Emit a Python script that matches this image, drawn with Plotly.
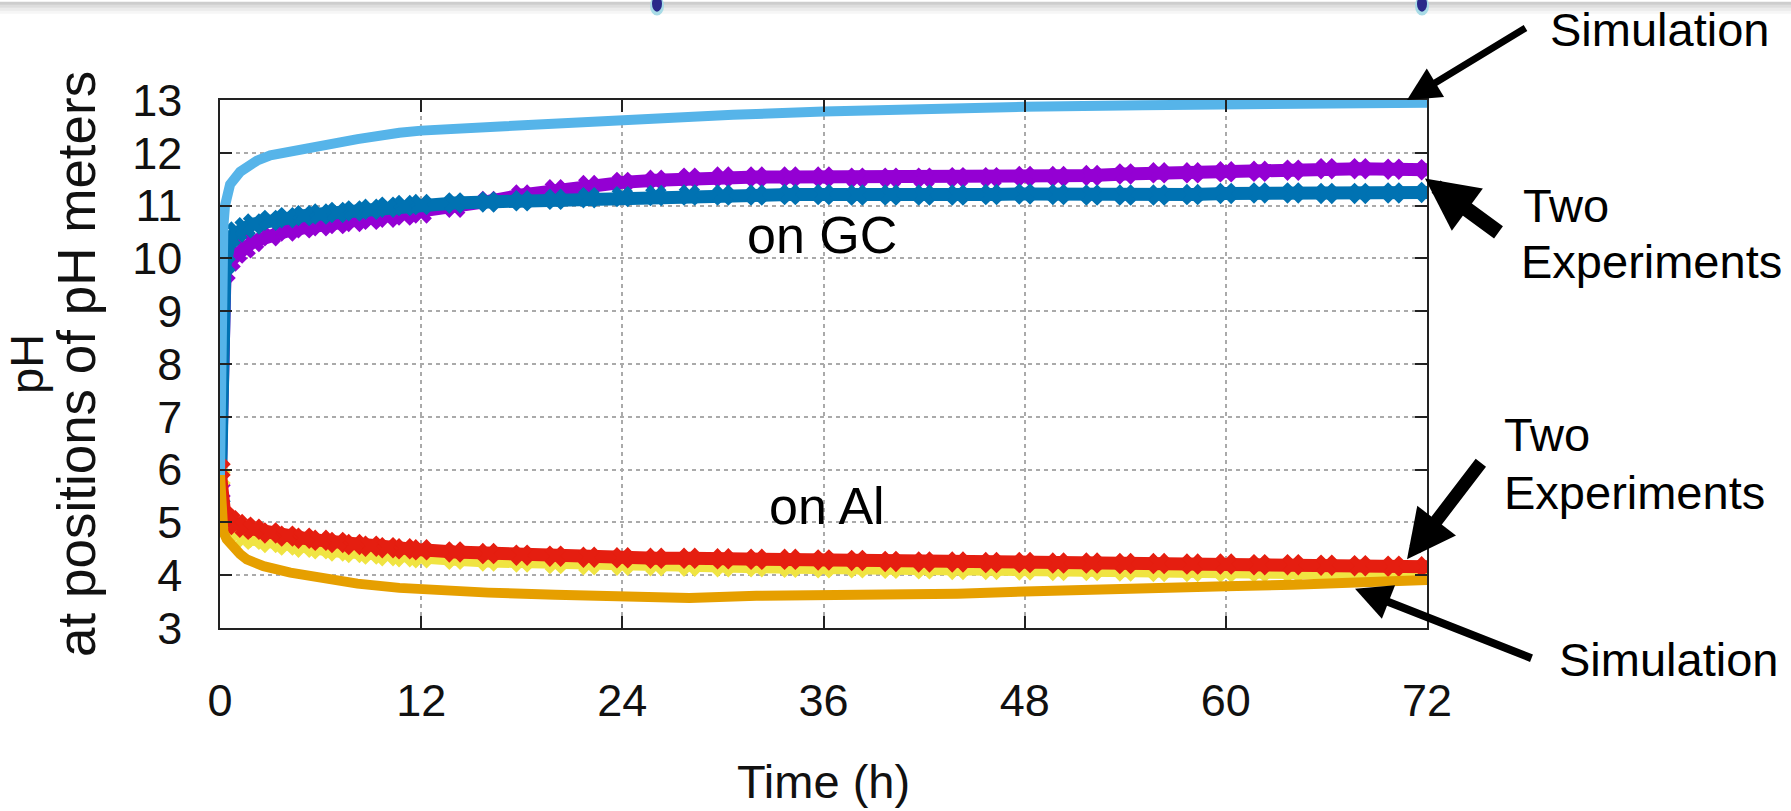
import plotly.graph_objects as go

# ---------------- data ----------------
# Simulation on GC (light blue)
t_sim_gc = [0, 0.05, 0.1, 0.2, 0.3, 0.6, 1.2, 2.2, 3, 4.2, 6.1, 8.2, 10.7, 12, 16.7, 20, 24, 30.6, 36, 40.5, 48, 55, 62.7, 68, 72]
ph_sim_gc = [5.9, 7.5, 9.5, 10.6, 11.0, 11.4, 11.64, 11.85, 11.95, 12.03, 12.16, 12.26, 12.38, 12.42, 12.5, 12.56, 12.63, 12.72, 12.78, 12.82, 12.87, 12.9, 12.92, 12.94, 12.95]

# Simulation on Al (orange)
t_sim_al = [0, 0.05, 0.1, 0.2, 0.4, 0.78, 1.2, 1.6, 2.6, 4.2, 6.2, 8.2, 10.7, 12, 16, 20, 24, 28, 32, 36, 40, 44, 48, 52, 56, 60, 64, 68, 72]
ph_sim_al = [5.9, 5.5, 5.2, 4.82, 4.68, 4.51, 4.4, 4.3, 4.17, 4.05, 3.93, 3.84, 3.76, 3.73, 3.67, 3.63, 3.61, 3.57, 3.61, 3.62, 3.62, 3.65, 3.69, 3.71, 3.75, 3.79, 3.82, 3.86, 3.91]

# Experiments: common sampling times
t_exp = [0, 0.3, 0.6, 1, 1.5, 2, 3, 4, 5, 6, 7, 8, 9, 10, 11, 12, 14, 16, 18, 20, 22, 24, 26, 28, 30, 32,
         34, 36, 38, 40, 42, 44, 46, 48, 50, 52, 54, 56, 58, 60, 62, 64, 66, 68, 70, 72]

ph_gc_exp1 = [5.6, 9.73, 9.95, 10.1, 10.2, 10.32, 10.43, 10.52, 10.58, 10.62, 10.66, 10.7, 10.74, 10.78, 10.82, 10.86,
              10.97, 11.08, 11.2, 11.3, 11.38, 11.44, 11.48, 11.52, 11.54, 11.54, 11.54, 11.54, 11.52, 11.52, 11.52,
              11.53, 11.53, 11.55, 11.55, 11.57, 11.6, 11.62, 11.62, 11.64, 11.65, 11.67, 11.7, 11.7, 11.69, 11.68]

ph_gc_exp2 = [5.3, 9.88, 10.4, 10.5, 10.58, 10.65, 10.72, 10.77, 10.81, 10.84, 10.87, 10.9, 10.93, 10.97, 11.0, 11.02,
              11.05, 11.07, 11.09, 11.12, 11.15, 11.17, 11.19, 11.2, 11.2, 11.2, 11.21, 11.21, 11.2, 11.2, 11.2,
              11.2, 11.21, 11.22, 11.21, 11.2, 11.2, 11.2, 11.21, 11.23, 11.24, 11.24, 11.23, 11.23, 11.24, 11.25]

ph_al_exp1 = [6.0, 5.1, 5.03, 4.96, 4.91, 4.87, 4.8, 4.74, 4.7, 4.66, 4.62, 4.58, 4.55, 4.52, 4.5, 4.48,
              4.44, 4.41, 4.38, 4.36, 4.34, 4.33, 4.32, 4.32, 4.31, 4.3, 4.3, 4.29, 4.28, 4.26, 4.25,
              4.25, 4.24, 4.24, 4.23, 4.23, 4.22, 4.22, 4.21, 4.21, 4.2, 4.2, 4.19, 4.18, 4.17, 4.16]

ph_al_exp2 = [5.85, 4.95, 4.85, 4.78, 4.72, 4.68, 4.62, 4.57, 4.53, 4.5, 4.46, 4.43, 4.4, 4.37, 4.35, 4.33,
              4.3, 4.27, 4.25, 4.22, 4.2, 4.19, 4.18, 4.17, 4.16, 4.16, 4.15, 4.14, 4.14, 4.13, 4.12,
              4.11, 4.11, 4.1, 4.09, 4.09, 4.08, 4.07, 4.07, 4.06, 4.06, 4.05, 4.05, 4.04, 4.04, 4.03]

x_ticks = [0, 12, 24, 36, 48, 60, 72]
y_ticks = [3, 4, 5, 6, 7, 8, 9, 10, 11, 12, 13]

FONT = "Liberation Sans, Arial, sans-serif"

fig = go.Figure()

def exp_trace(y, color):
    return go.Scatter(
        x=t_exp, y=y, mode="lines+markers",
        line=dict(color=color, width=13),
        marker=dict(symbol="x", size=19, color=color, line=dict(width=0)),
        showlegend=False, hoverinfo="skip",
    )

fig.add_trace(exp_trace(ph_gc_exp1, "#9400D3"))
fig.add_trace(exp_trace(ph_gc_exp2, "#0072B2"))
fig.add_trace(exp_trace(ph_al_exp2, "#F0E442"))
fig.add_trace(exp_trace(ph_al_exp1, "#E51E10"))

fig.add_trace(go.Scatter(x=t_sim_al, y=ph_sim_al, mode="lines",
                         line=dict(color="#E69F00", width=10), showlegend=False, hoverinfo="skip"))
fig.add_trace(go.Scatter(x=t_sim_gc, y=ph_sim_gc, mode="lines",
                         line=dict(color="#56B4E9", width=10), showlegend=False, hoverinfo="skip"))

axis_common = dict(
    showline=True, linecolor="#222", linewidth=1.5, mirror="ticks",
    ticks="inside", ticklen=12, tickwidth=1.5, tickcolor="#222",
    showgrid=True, gridcolor="#aaaaaa", gridwidth=1.5, griddash="4px,4px",
    zeroline=False, tickfont=dict(family=FONT, size=45, color="#111"),
)

fig.update_xaxes(range=[0, 72], tickvals=x_ticks, ticktext=[str(v) for v in x_ticks],
                 ticklabelstandoff=32,
                 title=dict(text="Time (h)", font=dict(family=FONT, size=47, color="#111"), standoff=40),
                 **axis_common)
fig.update_yaxes(range=[3, 13], tickvals=y_ticks, ticktext=[str(v) for v in y_ticks],
                 ticklabelstandoff=27, **axis_common)

PX_L, PX_R, PX_T, PX_B = 220, 1427, 100, 638
def px(xp):
    return (xp - PX_L) / (PX_R - PX_L)
def py(yp):
    return (PX_B - yp) / (PX_B - PX_T)

ann = []
txt = dict(family=FONT, size=47, color="#000")
ttl = dict(family=FONT, size=53, color="#111")
ttl_ph = dict(family=FONT, size=47, color="#111")
big = dict(family=FONT, size=52, color="#000")
# Y axis title lines
ann.append(dict(text="pH", xref="paper", yref="paper", x=px(26), y=0.5, textangle=-90,
                showarrow=False, xanchor="center", yanchor="middle", font=ttl_ph, borderpad=0))
ann.append(dict(text="at positions of pH meters", xref="paper", yref="paper", x=px(76), y=0.5,
                textangle=-90, showarrow=False, xanchor="center", yanchor="middle", font=ttl))
# In-plot labels
ann.append(dict(text="on GC", x=35.9, y=10.45, xref="x", yref="y", showarrow=False,
                xanchor="center", yanchor="middle", font=big))
ann.append(dict(text="on Al", x=36.2, y=5.32, xref="x", yref="y", showarrow=False,
                xanchor="center", yanchor="middle", font=big))
# Right-side labels
for s, x0, y0 in [("Simulation", 1548, 28), ("Two", 1521, 207), ("Experiments", 1519, 265),
                  ("Two", 1502, 441), ("Experiments", 1502, 500), ("Simulation", 1557, 670)]:
    ann.append(dict(text=s, xref="paper", yref="paper", x=px(x0), y=py(y0), showarrow=False,
                    xanchor="left", yanchor="middle", font=txt))
# Arrows (tip at x,y; tail offset in pixels)
for tip, tail, w, size in [((1407, 100), (1527, 27), 7, 0.95),
                           ((1425, 180), (1500, 235), 15, 0.7),
                           ((1407, 568), (1482, 470), 13, 0.75),
                           ((1355, 598), (1533, 668), 8, 0.9)]:
    ann.append(dict(text="", xref="paper", yref="paper", x=px(tip[0]), y=py(tip[1]),
                    ax=tail[0] - tip[0], ay=tail[1] - tip[1], showarrow=True,
                    arrowhead=2, arrowsize=size, arrowwidth=w, arrowcolor="#000"))

shapes = []
# Faint gray band at top of the slide
for i, op in enumerate([0.45, 0.3, 0.18, 0.08]):
    shapes.append(dict(type="rect", xref="paper", yref="paper", x0=px(0), x1=px(1791),
                       y0=py(3 * i + 3), y1=py(3 * i), fillcolor="#909090", opacity=op, line=dict(width=0),
                       layer="below"))
# Decorative dots at top of the slide
for cx in [657, 1422]:
    shapes.append(dict(type="circle", xref="paper", yref="paper", x0=px(cx - 7), x1=px(cx + 7),
                       y0=py(14), y1=py(-6), fillcolor="#a8dbe6", line=dict(width=0)))
    shapes.append(dict(type="circle", xref="paper", yref="paper", x0=px(cx - 5), x1=px(cx + 5),
                       y0=py(10), y1=py(-6), fillcolor="#2a2a8a", line=dict(width=0)))

fig.update_layout(
    width=1791, height=811,
    margin=dict(l=PX_L, r=1791 - PX_R, t=PX_T, b=811 - PX_B),
    paper_bgcolor="white", plot_bgcolor="white",
    annotations=ann, shapes=shapes,
    font=dict(family=FONT),
)

fig.write_html("out.html", config={"displayModeBar": False},
               post_script="document.body.style.margin='0px';")
